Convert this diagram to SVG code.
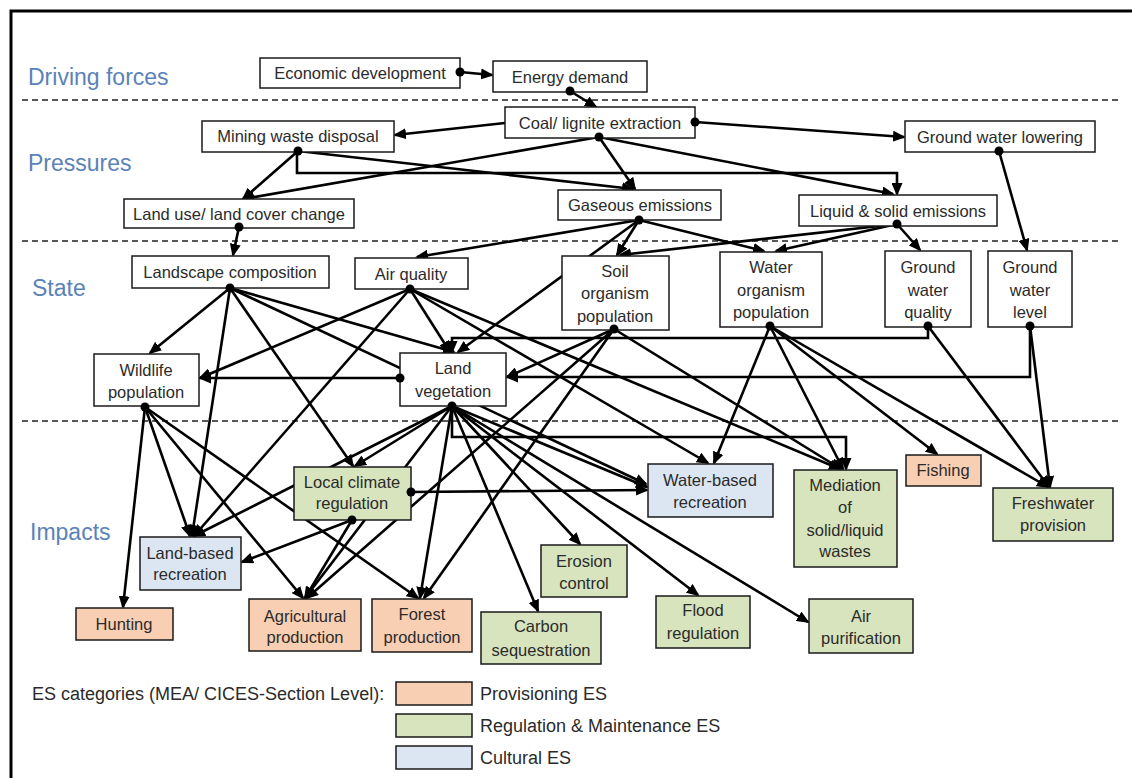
<svg xmlns="http://www.w3.org/2000/svg" width="1132" height="778" viewBox="0 0 1132 778">
<style>
.bx{fill:#fff;stroke:#1a1a1a;stroke-width:1.5}
.pr{fill:#f9cfb3;stroke:#1a1a1a;stroke-width:1.5}
.rg{fill:#d7e4bd;stroke:#1a1a1a;stroke-width:1.5}
.cu{fill:#dce6f2;stroke:#1a1a1a;stroke-width:1.5}
text{font-family:"Liberation Sans",Arial,sans-serif}
.t{font-size:16.5px;fill:#2b2b2b;text-anchor:middle}
.lbl{font-size:23px;fill:#5b82b8}
.lg{font-size:18px;fill:#2b2b2b}
.c{stroke:#000;stroke-width:2.6;fill:none;marker-end:url(#arr)}
.d{fill:#000}
.dash{stroke:#222;stroke-width:1.3;stroke-dasharray:6 4}
</style>
<defs>
<marker id="arr" markerUnits="userSpaceOnUse" markerWidth="13" markerHeight="11" viewBox="0 0 13 11" refX="11" refY="5.5" orient="auto"><path d="M0,0 L13,5.5 L0,11 z" fill="#000"/></marker>
</defs>
<rect x="0" y="0" width="1132" height="778" fill="#fff"/>
<rect x="11" y="11" width="1130" height="780" fill="none" stroke="#000" stroke-width="3"/>
<g id="bands">
<line class="dash" x1="22" y1="100" x2="1118" y2="100"/>
<line class="dash" x1="22" y1="241" x2="1118" y2="241"/>
<line class="dash" x1="22" y1="421" x2="1118" y2="421"/>
<text class="lbl" x="28" y="85">Driving forces</text>
<text class="lbl" x="28" y="171">Pressures</text>
<text class="lbl" x="32" y="296">State</text>
<text class="lbl" x="30" y="540">Impacts</text>
</g>
<g id="connectors">
<line class="c" x1="460" y1="72" x2="492" y2="75"/>
<line class="c" x1="570" y1="91" x2="596" y2="107"/>
<line class="c" x1="505" y1="123" x2="395" y2="135"/>
<line class="c" x1="695" y1="122" x2="904" y2="137"/>
<line class="c" x1="599" y1="137" x2="243" y2="199"/>
<line class="c" x1="599" y1="137" x2="635" y2="189"/>
<line class="c" x1="599" y1="137" x2="893" y2="194"/>
<line class="c" x1="298" y1="151" x2="243" y2="199"/>
<line class="c" x1="298" y1="151" x2="633" y2="189"/>
<polyline class="c" points="297,151 297,173 897,173 897,194"/>
<line class="c" x1="239" y1="227" x2="233" y2="255"/>
<line class="c" x1="999" y1="151" x2="1027" y2="250"/>
<line class="c" x1="639" y1="220" x2="417" y2="257"/>
<line class="c" x1="639" y1="220" x2="617" y2="255"/>
<line class="c" x1="639" y1="220" x2="458" y2="352"/>
<line class="c" x1="639" y1="220" x2="764" y2="251"/>
<line class="c" x1="897" y1="224" x2="620" y2="255"/>
<line class="c" x1="897" y1="224" x2="776" y2="251"/>
<line class="c" x1="897" y1="224" x2="920" y2="250"/>
<line class="c" x1="230" y1="288" x2="150" y2="353"/>
<line class="c" x1="230" y1="288" x2="192" y2="536"/>
<line class="c" x1="230" y1="288" x2="353" y2="466"/>
<line class="c" x1="230" y1="288" x2="454" y2="352"/>
<line class="c" x1="230" y1="288" x2="646" y2="484"/>
<line class="c" x1="410" y1="289" x2="200" y2="378"/>
<line class="c" x1="410" y1="289" x2="194" y2="536"/>
<line class="c" x1="410" y1="289" x2="450" y2="352"/>
<line class="c" x1="410" y1="289" x2="708" y2="463"/>
<line class="c" x1="410" y1="289" x2="840" y2="469"/>
<line class="c" x1="400" y1="378" x2="200" y2="378"/>
<line class="c" x1="614" y1="329" x2="507" y2="377"/>
<polyline class="c" points="928,326 928,338 452,338 452,352"/>
<polyline class="c" points="1030,326 1030,377 507,377"/>
<line class="c" x1="770" y1="326" x2="714" y2="463"/>
<line class="c" x1="770" y1="326" x2="843" y2="469"/>
<line class="c" x1="770" y1="326" x2="937" y2="454"/>
<line class="c" x1="770" y1="326" x2="1048" y2="487"/>
<line class="c" x1="928" y1="326" x2="1049" y2="487"/>
<line class="c" x1="1030" y1="326" x2="1050" y2="487"/>
<line class="c" x1="145" y1="407" x2="123" y2="607"/>
<line class="c" x1="145" y1="407" x2="190" y2="536"/>
<line class="c" x1="145" y1="407" x2="303" y2="598"/>
<line class="c" x1="145" y1="407" x2="418" y2="598"/>
<line class="c" x1="452" y1="406" x2="355" y2="466"/>
<line class="c" x1="452" y1="406" x2="194" y2="536"/>
<line class="c" x1="452" y1="406" x2="305" y2="598"/>
<line class="c" x1="452" y1="406" x2="420" y2="598"/>
<line class="c" x1="452" y1="406" x2="538" y2="611"/>
<line class="c" x1="452" y1="406" x2="580" y2="544"/>
<line class="c" x1="452" y1="406" x2="698" y2="595"/>
<line class="c" x1="452" y1="406" x2="808" y2="622"/>
<line class="c" x1="452" y1="406" x2="647" y2="487"/>
<polyline class="c" points="452,406 452,437 846,437 846,469"/>
<line class="c" x1="614" y1="329" x2="307" y2="598"/>
<line class="c" x1="614" y1="329" x2="424" y2="598"/>
<line class="c" x1="614" y1="329" x2="841" y2="469"/>
<line class="c" x1="352" y1="520" x2="242" y2="562"/>
<line class="c" x1="352" y1="520" x2="305" y2="598"/>
<line class="c" x1="411" y1="492" x2="647" y2="490"/>
</g>
<g id="n-econ"><rect class="bx" x="260" y="58" width="200" height="30"/><text class="t" x="360" y="79">Economic development</text></g>
<g id="n-energy"><rect class="bx" x="493" y="61" width="154" height="31"/><text class="t" x="570" y="83">Energy demand</text></g>
<g id="n-coal"><rect class="bx" x="505" y="107" width="190" height="31"/><text class="t" x="600" y="129">Coal/ lignite extraction</text></g>
<g id="n-mining"><rect class="bx" x="202" y="121" width="192" height="31"/><text class="t" x="298" y="142">Mining waste disposal</text></g>
<g id="n-gwlow"><rect class="bx" x="905" y="121" width="190" height="31"/><text class="t" x="1000" y="143">Ground water lowering</text></g>
<g id="n-landuse"><rect class="bx" x="124" y="199" width="230" height="29"/><text class="t" x="239" y="220">Land use/ land cover change</text></g>
<g id="n-gaseous"><rect class="bx" x="558" y="190" width="163" height="30"/><text class="t" x="640" y="211">Gaseous emissions</text></g>
<g id="n-liquid"><rect class="bx" x="799" y="195" width="198" height="31"/><text class="t" x="898" y="217">Liquid &amp; solid emissions</text></g>
<g id="n-landscape"><rect class="bx" x="132" y="256" width="197" height="32"/><text class="t" x="230" y="278">Landscape composition</text></g>
<g id="n-airq"><rect class="bx" x="355" y="258" width="113" height="31"/><text class="t" x="411" y="280">Air quality</text></g>
<g id="n-soil"><rect class="bx" x="562" y="256" width="107" height="74"/><text class="t" x="615" y="277">Soil</text><text class="t" x="615" y="299">organism</text><text class="t" x="615" y="322">population</text></g>
<g id="n-water"><rect class="bx" x="720" y="252" width="102" height="75"/><text class="t" x="771" y="273">Water</text><text class="t" x="771" y="296">organism</text><text class="t" x="771" y="318">population</text></g>
<g id="n-gwq"><rect class="bx" x="885" y="251" width="86" height="76"/><text class="t" x="928" y="273">Ground</text><text class="t" x="928" y="296">water</text><text class="t" x="928" y="318">quality</text></g>
<g id="n-gwl"><rect class="bx" x="988" y="251" width="84" height="76"/><text class="t" x="1030" y="273">Ground</text><text class="t" x="1030" y="296">water</text><text class="t" x="1030" y="318">level</text></g>
<g id="n-wildlife"><rect class="bx" x="94" y="354" width="105" height="52"/><text class="t" x="146" y="376">Wildlife</text><text class="t" x="146" y="398">population</text></g>
<g id="n-landveg"><rect class="bx" x="400" y="353" width="106" height="53"/><text class="t" x="453" y="374">Land</text><text class="t" x="453" y="397">vegetation</text></g>
<g id="n-localclim"><rect class="rg" x="294" y="467" width="117" height="53"/><text class="t" x="352" y="488">Local climate</text><text class="t" x="352" y="509">regulation</text></g>
<g id="n-landbased"><rect class="cu" x="140" y="537" width="101" height="53"/><text class="t" x="190" y="559">Land-based</text><text class="t" x="190" y="580">recreation</text></g>
<g id="n-hunting"><rect class="pr" x="76" y="608" width="97" height="32"/><text class="t" x="124" y="630">Hunting</text></g>
<g id="n-agri"><rect class="pr" x="249" y="599" width="112" height="52"/><text class="t" x="305" y="622">Agricultural</text><text class="t" x="305" y="643">production</text></g>
<g id="n-forest"><rect class="pr" x="372" y="599" width="100" height="53"/><text class="t" x="422" y="620">Forest</text><text class="t" x="422" y="643">production</text></g>
<g id="n-carbon"><rect class="rg" x="481" y="612" width="120" height="52"/><text class="t" x="541" y="632">Carbon</text><text class="t" x="541" y="656">sequestration</text></g>
<g id="n-erosion"><rect class="rg" x="541" y="545" width="86" height="52"/><text class="t" x="584" y="567">Erosion</text><text class="t" x="584" y="589">control</text></g>
<g id="n-flood"><rect class="rg" x="656" y="596" width="94" height="52"/><text class="t" x="703" y="616">Flood</text><text class="t" x="703" y="639">regulation</text></g>
<g id="n-airpur"><rect class="rg" x="809" y="599" width="104" height="54"/><text class="t" x="861" y="622">Air</text><text class="t" x="861" y="644">purification</text></g>
<g id="n-waterbased"><rect class="cu" x="648" y="464" width="125" height="53"/><text class="t" x="710" y="486">Water-based</text><text class="t" x="710" y="508">recreation</text></g>
<g id="n-mediation"><rect class="rg" x="794" y="470" width="103" height="97"/><text class="t" x="845" y="491">Mediation</text><text class="t" x="845" y="513">of</text><text class="t" x="845" y="536">solid/liquid</text><text class="t" x="845" y="557">wastes</text></g>
<g id="n-fishing"><rect class="pr" x="906" y="455" width="75" height="31"/><text class="t" x="943" y="476">Fishing</text></g>
<g id="n-freshwater"><rect class="rg" x="993" y="488" width="120" height="53"/><text class="t" x="1053" y="509">Freshwater</text><text class="t" x="1053" y="531">provision</text></g>
<g id="connector-ends">
<circle class="d" cx="460" cy="72" r="4.5"/>
<circle class="d" cx="570" cy="91" r="4.5"/>
<circle class="d" cx="695" cy="122" r="4.5"/>
<circle class="d" cx="599" cy="137" r="4.5"/>
<circle class="d" cx="298" cy="151" r="4.5"/>
<circle class="d" cx="239" cy="227" r="4.5"/>
<circle class="d" cx="999" cy="151" r="4.5"/>
<circle class="d" cx="639" cy="220" r="4.5"/>
<circle class="d" cx="897" cy="224" r="4.5"/>
<circle class="d" cx="230" cy="288" r="4.5"/>
<circle class="d" cx="410" cy="289" r="4.5"/>
<circle class="d" cx="400" cy="378" r="4.5"/>
<circle class="d" cx="614" cy="329" r="4.5"/>
<circle class="d" cx="770" cy="326" r="4.5"/>
<circle class="d" cx="928" cy="326" r="4.5"/>
<circle class="d" cx="1030" cy="326" r="4.5"/>
<circle class="d" cx="145" cy="407" r="4.5"/>
<circle class="d" cx="452" cy="406" r="4.5"/>
<circle class="d" cx="352" cy="520" r="4.5"/>
<circle class="d" cx="411" cy="492" r="4.5"/>
</g>
<g id="legend">
<text class="lg" x="32" y="700">ES categories (MEA/ CICES-Section Level):</text>
<rect class="pr" x="396" y="682" width="76" height="23"/>
<rect class="rg" x="396" y="714" width="76" height="23"/>
<rect class="cu" x="396" y="746" width="76" height="23"/>
<text class="lg" x="480" y="700">Provisioning ES</text>
<text class="lg" x="480" y="732">Regulation &amp; Maintenance ES</text>
<text class="lg" x="480" y="764">Cultural ES</text>
</g>
</svg>
